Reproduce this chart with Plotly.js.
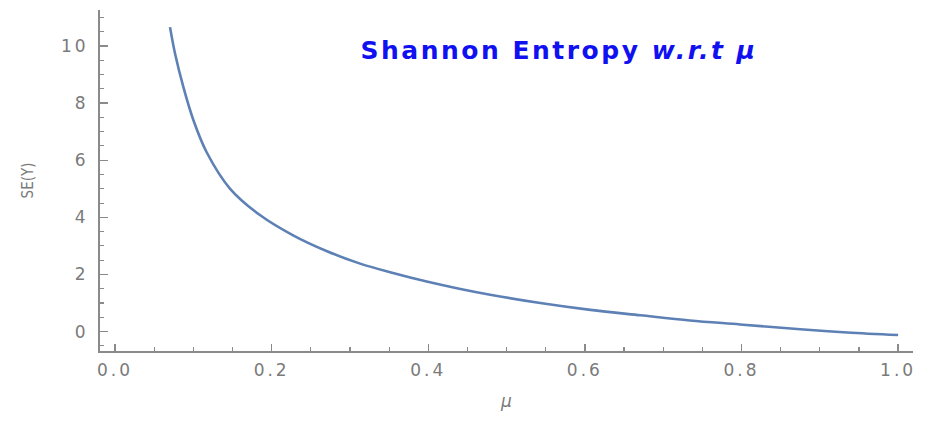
<!DOCTYPE html>
<html>
<head>
<meta charset="utf-8">
<script src="https://cdn.plot.ly/plotly-3.0.1.min.js"></script>
<style>
html,body{margin:0;padding:0;background:#fff;}
#chart{width:945px;height:422px;}
#chart .xtick text, #chart .ytick text{letter-spacing:3px;}
#chart .gtitle{letter-spacing:2.5px;}
</style>
</head>
<body>
<div id="chart"></div>
<script>
// Values
const mu = [0.0702, 0.0766, 0.0873, 0.100, 0.117, 0.147, 0.185, 0.228, 0.270, 0.313, 0.355, 0.398, 0.441, 0.479, 0.543, 0.607, 0.671, 0.734, 0.798, 0.875, 0.935, 1.000];
const se = [10.66, 9.74, 8.56, 7.41, 6.28, 5.00, 4.08, 3.36, 2.82, 2.38, 2.05, 1.75, 1.49, 1.29, 1.00, 0.76, 0.57, 0.39, 0.25, 0.08, -0.03, -0.12];
const xTickVals = [0, 0.2, 0.4, 0.6, 0.8, 1.0];
const xTickText = ["0.0", "0.2", "0.4", "0.6", "0.8", "1.0"];
const yTickVals = [0, 2, 4, 6, 8, 10];
const titleText = "<b>Shannon Entropy <i>w.r.t μ</i></b>";
const xTitle = "<i>μ</i>";
const yTitle = "SE(Y)";

const axisColor = "#8a8a8a";
const labelFont = {family: "DejaVu Sans", size: 17, color: "#7a7a7a"};

const trace = {
  x: mu, y: se, type: "scatter", mode: "lines",
  line: {color: "#5E81B5", width: 2.6, shape: "spline", smoothing: 1},
  hoverinfo: "skip"
};

const layout = {
  width: 945, height: 422,
  margin: {l: 100, r: 32, t: 10, b: 71},
  paper_bgcolor: "#ffffff", plot_bgcolor: "#ffffff",
  showlegend: false,
  title: {
    text: titleText,
    font: {family: "DejaVu Sans", size: 25, color: "#1010f0"},
    x: 559 / 945, xref: "container", xanchor: "center",
    y: 1 - 50 / 422, yref: "container", yanchor: "middle"
  },
  xaxis: {
    range: [-0.0192, 1.019],
    showgrid: false, zeroline: false,
    showline: true, linecolor: axisColor, linewidth: 1.5,
    ticks: "inside", ticklen: 7, tickwidth: 1.3, tickcolor: axisColor,
    tickvals: xTickVals, ticktext: xTickText,
    tickfont: labelFont, ticklabelstandoff: 3,
    minor: {dtick: 0.05, tick0: 0, ticks: "inside", ticklen: 4, tickwidth: 1.1, tickcolor: axisColor, showgrid: false},
    title: {text: xTitle, font: {family: "DejaVu Sans", size: 17, color: "#7a7a7a"}, standoff: 16}
  },
  yaxis: {
    range: [-0.68, 11.26],
    showgrid: false, zeroline: false,
    showline: true, linecolor: axisColor, linewidth: 2,
    ticks: "inside", ticklen: 8, tickwidth: 1.3, tickcolor: axisColor,
    tickvals: yTickVals,
    tickfont: labelFont, ticklabelstandoff: 6,
    minor: {dtick: 0.5, tick0: 0, ticks: "inside", ticklen: 4, tickwidth: 1.1, tickcolor: axisColor, showgrid: false},
    title: {text: yTitle, font: {family: "DejaVu Sans Condensed", size: 15, color: "#7a7a7a"}, standoff: 30}
  }
};

Plotly.newPlot("chart", [trace], layout, {displayModeBar: false, staticPlot: true});
</script>
</body>
</html>
